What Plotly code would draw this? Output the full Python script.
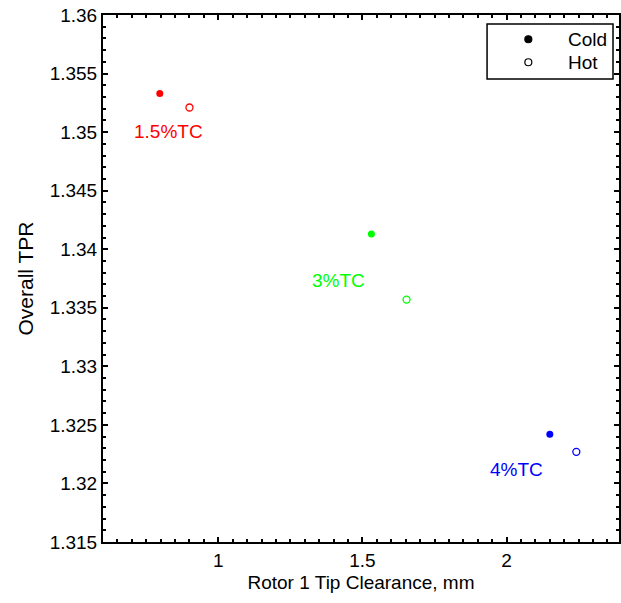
import plotly.graph_objects as go

# ---- data ----
tc_labels = ["1.5%TC", "3%TC", "4%TC"]
cold_x = [0.797, 1.531, 2.150]
cold_y = [1.3533, 1.3413, 1.3242]
hot_x = [0.900, 1.653, 2.242]
hot_y = [1.3521, 1.3357, 1.3227]
legend_names = ["Cold", "Hot"]

# ---- styles ----
colors = ["#ff0000", "#00ff00", "#0000ff"]
label_shift = [(9, -38), (-33, -46), (-33, -35)]  # pixel offsets from cold point
FONT = "Liberation Sans, Arial, sans-serif"
# legend placement (paper fractions of the plot area)
LEG_BOX = dict(x0=0.7443, x1=0.9884, y0=0.8786, y1=0.9829)
LEG_MARK_X = 0.8243
LEG_TEXT_X = 0.8968
LEG_ROWS_Y = [0.954, 0.9103]
LEG_SYMBOLS = ["circle", "circle-open"]

fig = go.Figure()

fig.add_trace(go.Scatter(
    x=cold_x, y=cold_y, mode="markers", showlegend=False, name="Cold",
    marker=dict(symbol="circle", size=7, color=colors, line=dict(width=0)),
))
fig.add_trace(go.Scatter(
    x=hot_x, y=hot_y, mode="markers", showlegend=False, name="Hot",
    marker=dict(symbol="circle-open", size=7, color=colors, line=dict(width=1.3, color=colors)),
))

# legend key (drawn on an invisible overlay axis that spans the plot area 0..1)
fig.add_trace(go.Scatter(
    x=[LEG_MARK_X] * len(legend_names), y=LEG_ROWS_Y, mode="markers",
    xaxis="x2", yaxis="y2", showlegend=False, hoverinfo="skip",
    marker=dict(symbol=LEG_SYMBOLS, size=7, color="black", line=dict(width=1.2, color="black")),
))
fig.add_shape(type="rect", xref="paper", yref="paper", **LEG_BOX,
              line=dict(color="black", width=1.5), fillcolor="rgba(0,0,0,0)")
for name, yy in zip(legend_names, LEG_ROWS_Y):
    fig.add_annotation(x=LEG_TEXT_X, y=yy, xref="paper", yref="paper", text=name,
                       showarrow=False, xanchor="left", yanchor="middle",
                       font=dict(family=FONT, size=19, color="black"))

for lbl, x, y, c, (dx, dy) in zip(tc_labels, cold_x, cold_y, colors, label_shift):
    fig.add_annotation(x=x, y=y, text=lbl, showarrow=False,
                       xshift=dx, yshift=dy,
                       font=dict(family=FONT, size=19, color=c))

fig.update_xaxes(
    range=[0.6, 2.39], dtick=0.5,
    showline=True, linecolor="black", linewidth=2, mirror="allticks", showgrid=False,
    ticks="inside", ticklen=5, tickwidth=2, tickcolor="black",
    minor=dict(ticks="inside", ticklen=3, tickwidth=2, dtick=0.05, tickcolor="black"),
    tickfont=dict(family=FONT, size=19, color="black"),
    title=dict(text="Rotor 1 Tip Clearance, mm",
               font=dict(family=FONT, size=19, color="black"), standoff=6),
)
fig.update_yaxes(
    range=[1.315, 1.36], dtick=0.005,
    showline=True, linecolor="black", linewidth=2, mirror="allticks", showgrid=False,
    ticks="inside", ticklen=5, tickwidth=2, tickcolor="black",
    minor=dict(ticks="inside", ticklen=3, tickwidth=2, dtick=0.001, tickcolor="black"),
    tickfont=dict(family=FONT, size=19, color="black"),
    title=dict(text="Overall TPR",
               font=dict(family=FONT, size=21, color="black"), standoff=10),
)

fig.update_layout(
    xaxis2=dict(overlaying="x", range=[0, 1], visible=False, fixedrange=True),
    yaxis2=dict(overlaying="y", range=[0, 1], visible=False, fixedrange=True),
    width=621, height=603,
    margin=dict(l=103, r=2, t=15, b=61, autoexpand=False),
    paper_bgcolor="white", plot_bgcolor="white",
    showlegend=False,
)

fig.write_html("out.html", config={"displayModeBar": False},
               post_script="document.body.style.margin='0px';")
